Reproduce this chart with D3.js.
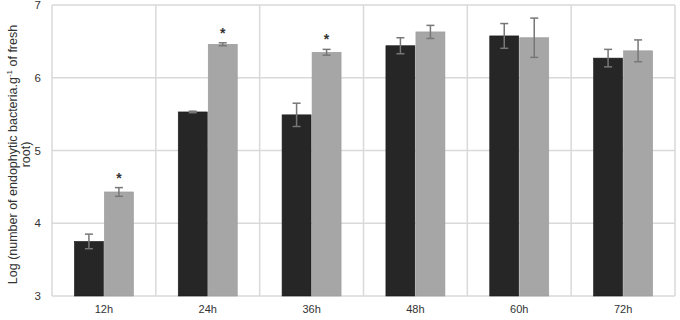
<!DOCTYPE html>
<html>
<head>
<meta charset="utf-8">
<script src="https://cdn.jsdelivr.net/npm/d3@7"></script>
<style>
  body { margin: 0; background: #fff; }
  text { font-family: "Liberation Sans", Arial, sans-serif; }
</style>
</head>
<body>
<svg id="svg"></svg>
<script>
const categories = ['12h', '24h', '36h', '48h', '60h', '72h'];
const seriesA = [3.75, 5.53, 5.49, 6.44, 6.575, 6.27];
const seriesB = [4.43, 6.46, 6.35, 6.63, 6.55, 6.37];
const errA = [0.10, 0.01, 0.16, 0.11, 0.17, 0.12];
const errB = [0.06, 0.02, 0.04, 0.09, 0.27, 0.15];
const signif = [true, true, true, false, false, false];
const yTicks = [3, 4, 5, 6, 7];

const width = 680;
const height = 320;
const margin = { top: 5, right: 5, bottom: 24, left: 52 };

const svg = d3.select('#svg')
  .attr('width', width)
  .attr('height', height);

const x = d3.scaleBand()
  .domain(categories)
  .range([margin.left, width - margin.right])
  .padding(0);

const y = d3.scaleLinear()
  .domain([3, 7])
  .range([height - margin.bottom, margin.top]);

const barW = 29;

// grid
const grid = svg.append('g');
grid.selectAll('.hgrid').data(yTicks).enter().append('line')
  .attr('x1', margin.left).attr('x2', width - margin.right)
  .attr('y1', d => y(d)).attr('y2', d => y(d))
  .attr('stroke', '#d9d9d9').attr('stroke-width', 1.5);

const bounds = categories.map(c => x(c)).concat([width - margin.right]);
grid.selectAll('.vgrid').data(bounds).enter().append('line')
  .attr('x1', d => d).attr('x2', d => d)
  .attr('y1', margin.top).attr('y2', y(3))
  .attr('stroke', '#d9d9d9').attr('stroke-width', 1.5);

// y axis labels
const yAxis = d3.axisLeft(y).tickValues(yTicks).tickFormat(d3.format('d')).tickSize(0).tickPadding(11);
svg.append('g')
  .attr('transform', `translate(${margin.left},0)`)
  .call(yAxis)
  .call(g => g.select('.domain').remove())
  .call(g => g.selectAll('text').attr('font-size', 11.5).attr('fill', '#333')
    .style('font-family', '"Liberation Sans", Arial, sans-serif'));

// x axis labels
const xAxis = d3.axisBottom(x).tickSize(0).tickPadding(9);
svg.append('g')
  .attr('transform', `translate(0,${y(3)})`)
  .call(xAxis)
  .call(g => g.select('.domain').remove())
  .call(g => g.selectAll('text').attr('font-size', 11).attr('fill', '#333')
    .style('font-family', '"Liberation Sans", Arial, sans-serif'));

// bars
const cx = c => x(c) + x.bandwidth() / 2;
const series = [
  { vals: seriesA, errs: errA, fill: '#262626', stroke: '#1a1a1a', off: -barW - 0.5 },
  { vals: seriesB, errs: errB, fill: '#a6a6a6', stroke: '#999', off: 0.5 }
];

series.forEach(s => {
  svg.append('g').selectAll('rect').data(categories).enter().append('rect')
    .attr('x', (c) => cx(c) + s.off)
    .attr('y', (c, i) => y(s.vals[i]))
    .attr('width', barW)
    .attr('height', (c, i) => y(3) - y(s.vals[i]))
    .attr('fill', s.fill)
    .attr('stroke', s.stroke)
    .attr('stroke-width', 0.6);

  const eb = svg.append('g').attr('stroke', '#777').attr('stroke-width', 1.5);
  categories.forEach((c, i) => {
    const ex = cx(c) + s.off + barW / 2;
    const hi = y(s.vals[i] + s.errs[i]);
    const lo = y(s.vals[i] - s.errs[i]);
    eb.append('line').attr('x1', ex).attr('x2', ex).attr('y1', hi).attr('y2', lo);
    eb.append('line').attr('x1', ex - 4).attr('x2', ex + 4).attr('y1', hi).attr('y2', hi);
    eb.append('line').attr('x1', ex - 4).attr('x2', ex + 4).attr('y1', lo).attr('y2', lo);
  });
});

// significance marks
svg.append('g').selectAll('text').data(categories.filter((c, i) => signif[i])).enter()
  .append('text')
  .attr('x', c => cx(c) + 0.5 + barW / 2)
  .attr('y', c => {
    const i = categories.indexOf(c);
    return y(seriesB[i] + errB[i]) - 5;
  })
  .attr('text-anchor', 'middle')
  .attr('font-size', 14)
  .attr('font-weight', 'bold')
  .attr('fill', '#333')
  .text('*');

// y axis title
const yt = svg.append('text')
  .attr('transform', `translate(20,${(margin.top + y(3)) / 2 + 4}) rotate(-90)`)
  .attr('text-anchor', 'middle')
  .attr('font-size', 12.5)
  .attr('fill', '#333');
const l1 = yt.append('tspan').attr('x', 0).attr('dy', -3);
l1.append('tspan').text('Log (number of endophytic bacteria.g');
l1.append('tspan').attr('font-size', 8).attr('dy', -5).text('-1');
l1.append('tspan').attr('dy', 5).text(' of fresh');
yt.append('tspan').attr('x', 0).attr('dy', 12.5).text('root)');
</script>
</body>
</html>
